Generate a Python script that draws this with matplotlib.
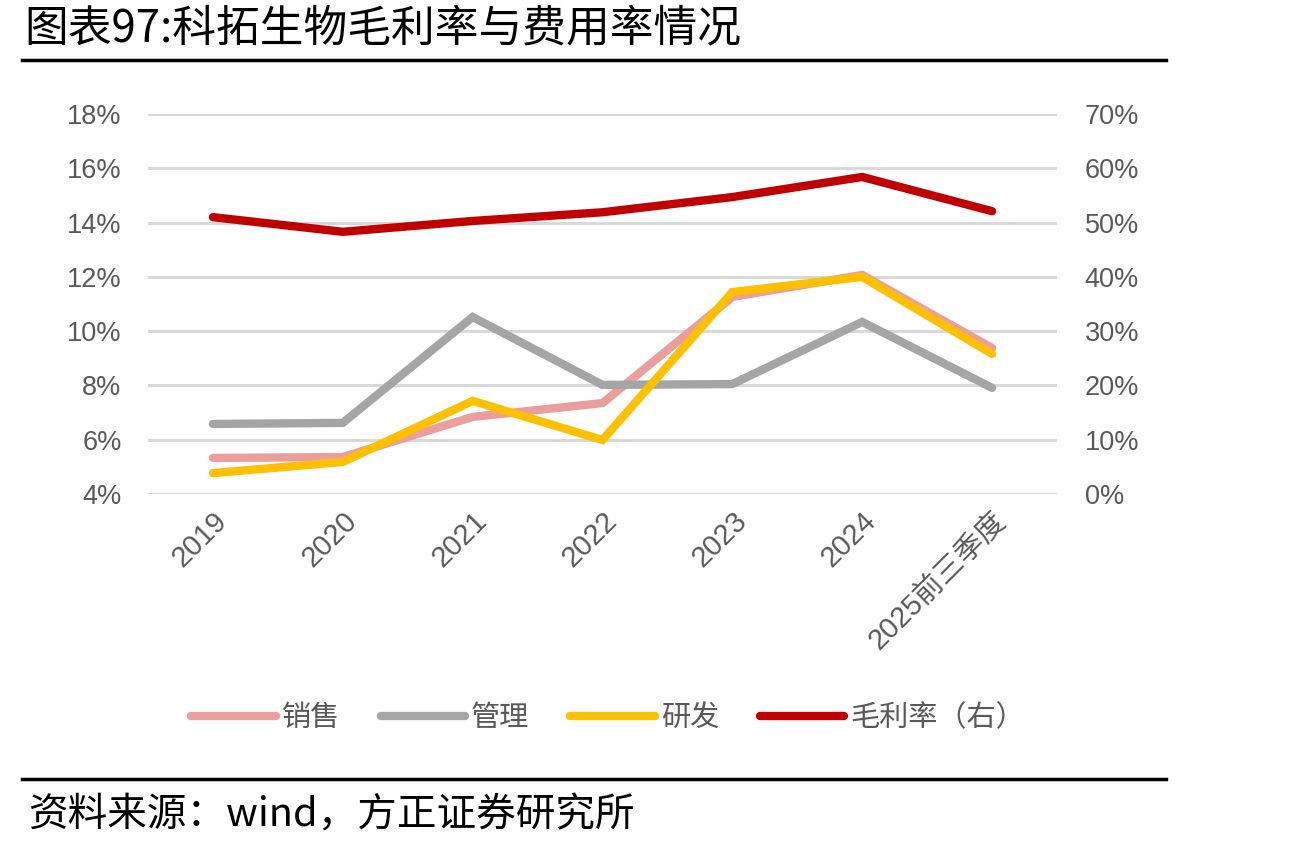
import matplotlib
matplotlib.use("Agg")
import matplotlib.pyplot as plt
from matplotlib.lines import Line2D
from matplotlib.ticker import FuncFormatter

plt.rcParams['font.family'] = ['Liberation Sans', 'Noto Sans CJK SC', 'DejaVu Sans']

categories = ["2019", "2020", "2021", "2022", "2023", "2024", "2025前三季度"]
sales = [5.33, 5.36, 6.84, 7.35, 11.26, 12.07, 9.38]
admin = [6.58, 6.62, 10.52, 8.02, 8.05, 10.34, 7.91]
rnd = [4.77, 5.18, 7.43, 5.99, 11.44, 12.0, 9.16]
gross = [51.0, 48.3, 50.3, 51.9, 54.7, 58.4, 52.1]
series_names = ["销售", "管理", "研发", "毛利率（右）"]
colors = ["#EA9E9E", "#A5A5A5", "#FFC000", "#C00000"]
left_ticks = [4, 6, 8, 10, 12, 14, 16, 18]
right_ticks = [0, 10, 20, 30, 40, 50, 60, 70]

W, H = 1292, 850
fig = plt.figure(figsize=(W / 100, H / 100), dpi=100)
ax = fig.add_axes([148 / W, 1 - 494 / H, (1057 - 148) / W, (494 - 114) / H])
ax2 = ax.twinx()

x = list(range(len(categories)))
lw = 6
kw = dict(linewidth=lw, solid_capstyle='round', solid_joinstyle='miter')
ax.plot(x, sales, color=colors[0], zorder=3, **kw)
ax.plot(x, admin, color=colors[1], zorder=3, **kw)
ax.plot(x, rnd, color=colors[2], zorder=4, **kw)
ax2.plot(x, gross, color=colors[3], zorder=5, **kw)

ax.set_xlim(-0.5, len(categories) - 0.5)
ax.set_ylim(left_ticks[0], left_ticks[-1])
ax2.set_ylim(right_ticks[0], right_ticks[-1])
ax.set_yticks(left_ticks)
ax2.set_yticks(right_ticks)
ax.yaxis.set_major_formatter(FuncFormatter(lambda v, p: f"{v:.0f}%"))
ax2.yaxis.set_major_formatter(FuncFormatter(lambda v, p: f"{v:.0f}%"))
ax.grid(axis='y', color='#D9D9D9', linewidth=2.2, zorder=0)
ax.set_axisbelow(True)
ax.set_xticks(x)
ax.set_xticklabels(categories, rotation=45, ha='right', rotation_mode='anchor')

tick_color = '#595959'
for a in (ax, ax2):
    for s in a.spines.values():
        s.set_visible(False)
    a.tick_params(length=0, colors=tick_color, labelsize=19.5)
ax.tick_params(axis='y', pad=19)
ax2.tick_params(axis='y', pad=20)
ax.tick_params(axis='x', pad=9, labelsize=21)
for lab in ax.get_xticklabels():
    lab.set_family(['Liberation Sans', 'Noto Sans CJK SC'])

handles = [Line2D([0], [0], color=c, linewidth=lw, solid_capstyle='round') for c in colors]
leg = fig.legend(handles, series_names, loc='center', bbox_to_anchor=(608 / W, 1 - 718 / H),
                 ncol=4, frameon=False, handlelength=2.9, handletextpad=0.2,
                 columnspacing=1.4, prop={'family': ['Noto Sans CJK SC'], 'size': 21})
for t in leg.get_texts():
    t.set_color(tick_color)

# title and rules
fig.text(24 / W, 1 - 28 / H, "图表97:科拓生物毛利率与费用率情况", fontsize=31.5,
         family=['Noto Sans CJK SC'], va='center', ha='left', color='black')
fig.add_artist(Line2D([22 / W, 1166 / W], [1 - 60 / H, 1 - 60 / H], color='black', linewidth=2.5))
fig.add_artist(Line2D([22 / W, 1166 / W], [1 - 779 / H, 1 - 779 / H], color='black', linewidth=2.5))
fig.text(28 / W, 1 - 815 / H, "资料来源：wind，方正证券研究所", fontsize=28.5,
         family=['Noto Sans CJK SC'], va='center', ha='left', color='black')

fig.savefig("out.png", dpi=100)
